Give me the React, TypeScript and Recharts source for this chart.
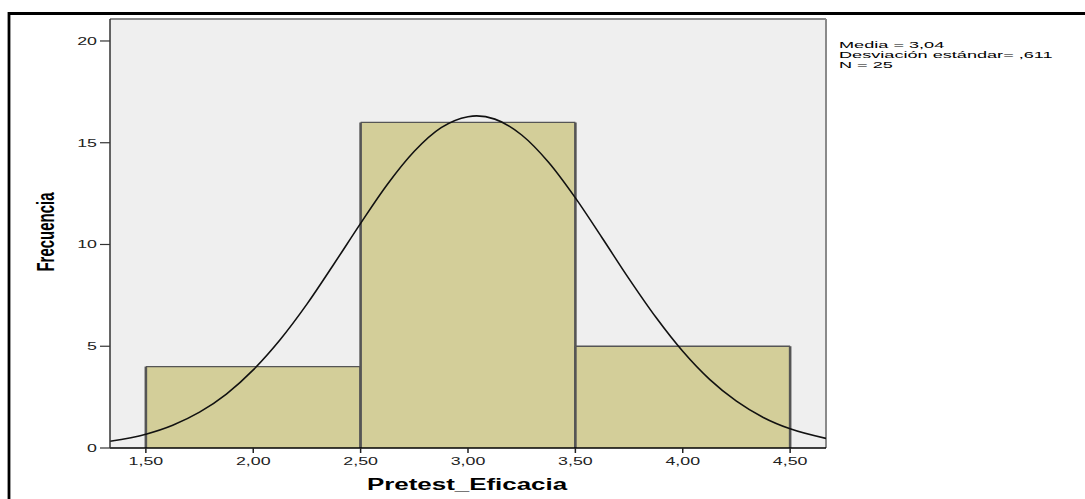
import React from "react";
import {
  CartesianGrid,
  ComposedChart,
  Line,
  ReferenceArea,
  ReferenceLine,
  XAxis,
  YAxis,
} from "recharts";

// histogram bins (Pretest_Eficacia) and their frequencies
const BIN_START = [1.5, 2.5, 3.5];
const BIN_END = [2.5, 3.5, 4.5];
const COUNTS = [4, 16, 5];

// fitted normal curve, read at regular steps along the axis
const CURVE_X = [
  1.333, 1.5, 1.625, 1.75, 1.875, 2.0, 2.125, 2.25, 2.375, 2.5, 2.625, 2.75, 2.875, 3.0, 3.04, 3.125,
  3.25, 3.375, 3.5, 3.625, 3.75, 3.875, 4.0, 4.125, 4.25, 4.375, 4.5, 4.667,
];
const CURVE_Y = [
  0.33, 0.68, 1.12, 1.76, 2.65, 3.84, 5.32, 7.07, 9.03, 11.04, 12.96, 14.58, 15.74, 16.28, 16.32, 16.16,
  15.38, 14.04, 12.29, 10.32, 8.31, 6.42, 4.75, 3.37, 2.3, 1.5, 0.94, 0.47,
];

const X_TICKS = [1.5, 2.0, 2.5, 3.0, 3.5, 4.0, 4.5];
const Y_TICKS = [0, 5, 10, 15, 20];
const X_MIN = 1.333;
const X_MAX = 4.667;
const Y_MAX = 21.08;

const STATS = ["Media = 3,04", "Desviación estándar= ,611", "N = 25"];

const FONT = "'Liberation Sans', Arial, sans-serif";
const STRETCH = 1.62;

const curveData = CURVE_X.map((x, i) => ({ x, y: CURVE_Y[i] }));

const fmt = (v: number) => v.toFixed(2).replace(".", ",");

const XTick = ({ x, y, payload }: any) => (
  <g transform={`translate(${x},${y})`}>
    <text
      transform={`scale(${STRETCH},1)`}
      y={10.5}
      textAnchor="middle"
      fontFamily={FONT}
      fontSize={11}
      fill="#222"
    >
      {fmt(payload.value)}
    </text>
  </g>
);

const YTick = ({ x, y, payload }: any) => (
  <g transform={`translate(${x},${y})`}>
    <text
      transform={`scale(${STRETCH},1)`}
      y={4}
      textAnchor="end"
      fontFamily={FONT}
      fontSize={11}
      fill="#222"
    >
      {payload.value}
    </text>
  </g>
);

const BinShape = ({ x, y, width, height }: any) => (
  <g>
    <rect x={x} y={y} width={width} height={height} fill="#d3ce99" />
    <line x1={x} y1={y} x2={x + width} y2={y} stroke="#555" strokeWidth={1.3} />
    <line x1={x} y1={y} x2={x} y2={y + height} stroke="#555" strokeWidth={2.6} />
    <line x1={x + width} y1={y} x2={x + width} y2={y + height} stroke="#555" strokeWidth={2.6} />
  </g>
);

export default function App() {
  return (
    <div style={{ position: "absolute", left: 0, top: 0, width: 1085, height: 499, background: "#fff" }}>
      <ComposedChart
        width={1085}
        height={499}
        data={curveData}
        margin={{ top: 19, right: 259, bottom: 21, left: 50 }}
      >
        <CartesianGrid fill="#efefef" horizontal={false} vertical={false} />
        {COUNTS.map((c, i) => (
          <ReferenceArea
            key={i}
            x1={BIN_START[i]}
            x2={BIN_END[i]}
            y1={0}
            y2={c}
            ifOverflow="visible"
            shape={<BinShape />}
          />
        ))}
        <ReferenceLine y={Y_MAX} stroke="#8a8a8a" strokeWidth={2} ifOverflow="visible" />
        <ReferenceLine x={X_MAX} stroke="#8a8a8a" strokeWidth={2} ifOverflow="visible" />
        <XAxis
          dataKey="x"
          type="number"
          domain={[X_MIN, X_MAX]}
          ticks={X_TICKS}
          allowDataOverflow
          height={30}
          tickSize={5}
          tickMargin={2}
          axisLine={{ stroke: "#000", strokeWidth: 1.5 }}
          tickLine={{ stroke: "#222", strokeWidth: 1.5 }}
          tick={<XTick />}
        />
        <YAxis
          type="number"
          domain={[0, Y_MAX]}
          ticks={Y_TICKS}
          allowDataOverflow
          width={60}
          tickSize={10}
          tickMargin={3}
          axisLine={{ stroke: "#333", strokeWidth: 1.5 }}
          tickLine={{ stroke: "#333", strokeWidth: 1.2 }}
          tick={<YTick />}
        />
        <Line
          dataKey="y"
          type="monotone"
          stroke="#111"
          strokeWidth={1.6}
          dot={false}
          activeDot={false}
          isAnimationActive={false}
        />
      </ComposedChart>
      <svg
        width={1085}
        height={499}
        style={{ position: "absolute", left: 0, top: 0, pointerEvents: "none" }}
      >
        {/* frame: top and left edge only */}
        <line x1={8} y1={13.5} x2={1085} y2={13.5} stroke="#000" strokeWidth={2.8} />
        <line x1={9} y1={12} x2={9} y2={499} stroke="#000" strokeWidth={2.8} />
        <text
          transform={`translate(467,490) scale(${STRETCH},1)`}
          textAnchor="middle"
          fontFamily={FONT}
          fontSize={16}
          fontWeight="bold"
          fill="#000"
        >
          Pretest_Eficacia
        </text>
        <text
          transform={`translate(46,232) scale(1.6,1) rotate(-90)`}
          textAnchor="middle"
          dominantBaseline="central"
          fontFamily={FONT}
          fontSize={15}
          fontWeight="bold"
          fill="#000"
        >
          Frecuencia
        </text>
        {STATS.map((s, i) => (
          <text
            key={s}
            transform={`translate(839,${48 + i * 10}) scale(1.85,1)`}
            fontFamily={FONT}
            fontSize={9.8}
            fill="#000"
          >
            {s}
          </text>
        ))}
      </svg>
    </div>
  );
}
